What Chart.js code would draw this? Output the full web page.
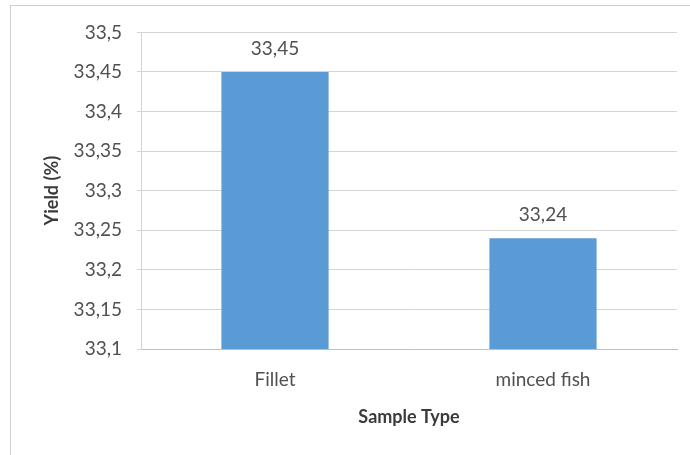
<!DOCTYPE html>
<html>
<head>
<meta charset="utf-8">
<script src="https://cdn.jsdelivr.net/npm/chart.js@4/dist/chart.umd.min.js"></script>
<style>
  html, body { margin: 0; padding: 0; background: #ffffff; }
  #frame {
    position: absolute; left: 10px; top: 5px;
    width: 679px; height: 449px;
    border-top: 1px solid #cfcfcf; border-left: 1px solid #cfcfcf;
  }
  #wrap { position: absolute; left: 0; top: 0; width: 679px; height: 449px; }
</style>
</head>
<body>
<div id="frame"><div id="wrap"><canvas id="c"></canvas></div></div>
<script>
// Yield per sample type
const categories = ['Fillet', 'minced fish'];
const yieldValues = [33.45, 33.24];
const yMin = 33.1;
const yMax = 33.5;
const yStep = 0.05;

const fmt = v => String(Math.round(v * 100) / 100).replace('.', ',');

const textGray = '#505050';
const fontFamily = 'Lato, "Open Sans", sans-serif';

// Value labels above each bar
const barValueLabels = {
  id: 'barValueLabels',
  afterDatasetsDraw(chart) {
    const ctx = chart.ctx;
    const meta = chart.getDatasetMeta(0);
    ctx.save();
    ctx.font = '19px ' + fontFamily;
    ctx.fillStyle = textGray;
    ctx.textAlign = 'center';
    ctx.textBaseline = 'middle';
    meta.data.forEach((bar, i) => {
      ctx.fillText(fmt(chart.data.datasets[0].data[i]), bar.x, bar.y - 23);
    });
    ctx.restore();
  }
};

new Chart(document.getElementById('c'), {
  type: 'bar',
  data: {
    labels: categories,
    datasets: [{
      data: yieldValues,
      backgroundColor: '#5b9bd5',
      borderWidth: 0,
      barPercentage: 0.8,
      categoryPercentage: 0.5
    }]
  },
  options: {
    responsive: true,
    maintainAspectRatio: false,
    animation: false,
    layout: { padding: { left: 20, right: 13, top: 26, bottom: 10 } },
    plugins: {
      legend: { display: false },
      tooltip: { enabled: false }
    },
    scales: {
      x: {
        grid: { display: false, drawTicks: false },
        border: { display: true, color: '#bfbfbf', width: 1 },
        ticks: {
          color: textGray,
          font: { family: fontFamily, size: 19 },
          padding: 19,
          maxRotation: 0
        },
        title: {
          display: true,
          text: 'Sample Type',
          color: '#3a3a3a',
          font: { family: fontFamily, size: 18, weight: 'bold' },
          padding: { top: 0, bottom: 17 }
        },
        afterFit(scale) { scale.height = 96; }
      },
      y: {
        min: yMin,
        max: yMax,
        grid: { color: '#d4d4d4', lineWidth: 1, tickLength: 4, drawTicks: true },
        border: { display: true, color: '#d4d4d4', width: 1 },
        ticks: {
          stepSize: yStep,
          color: textGray,
          font: { family: fontFamily, size: 19 },
          padding: 15,
          callback: v => fmt(v)
        },
        title: {
          display: true,
          text: 'Yield (%)',
          color: '#3a3a3a',
          font: { family: fontFamily, size: 18, weight: 'bold' },
          padding: { top: 10, bottom: 0 }
        },
        afterFit(scale) { scale.width = 110; }
      }
    }
  },
  plugins: [barValueLabels]
});
</script>
</body>
</html>
